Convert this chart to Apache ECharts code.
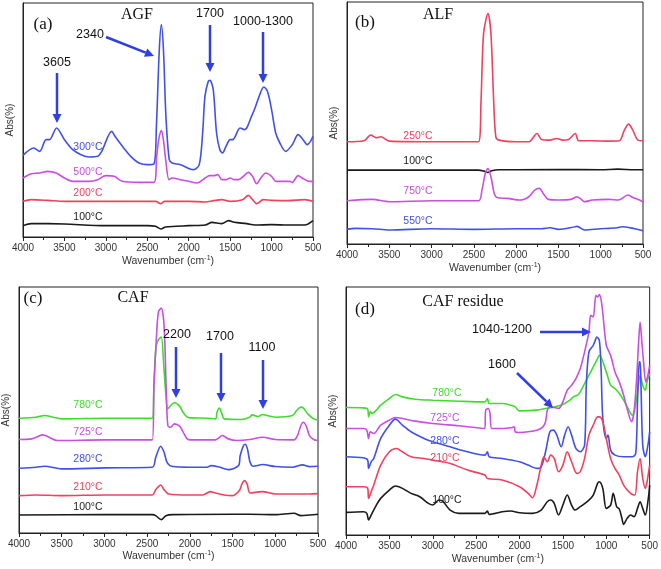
<!DOCTYPE html>
<html><head><meta charset="utf-8">
<script src="https://cdn.jsdelivr.net/npm/echarts@6/dist/echarts.min.js"></script>
<style>html,body{margin:0;padding:0;background:#fff}#c{width:661px;height:569px}</style>
</head><body><div id="c"></div>
<script>
// ---------- DATA (wavenumber cm-1, absorbance arbitrary units) ----------
const xTicks = [4000, 3500, 3000, 2500, 2000, 1500, 1000, 500];

// (a) AGF
const agf300 = [[4000,245],[3870,267],[3800,257],[3720,292],[3680,292],[3595,327],[3500,292],[3400,262],[3300,247],[3200,240],[3100,242],[3050,257],[2930,317],[2890,302],[2800,272],[2700,242],[2600,222],[2500,217],[2420,219],[2390,332],[2355,562],[2330,637],[2305,562],[2275,362],[2235,232],[2200,222],[2100,217],[1985,204],[1940,202],[1873,217],[1832,312],[1804,422],[1764,467],[1744,470],[1704,442],[1664,312],[1624,262],[1592,252],[1550,272],[1500,292],[1470,292],[1400,322],[1380,327],[1330,322],[1300,327],[1250,357],[1200,387],[1150,422],[1094,450],[1050,437],[1000,382],[950,312],[900,282],[830,257],[750,277],[680,307],[620,292],[570,277],[530,287],[500,302]];
const agf500 = [[4000,177],[3900,190],[3800,192],[3700,197],[3600,192],[3500,177],[3400,167],[3200,167],[3100,172],[3000,184],[2900,182],[2800,167],[2600,164],[2420,164],[2386,242],[2362,292],[2330,319],[2306,292],[2278,232],[2238,172],[2200,177],[2100,172],[2000,167],[1900,162],[1800,177],[1750,184],[1700,184],[1650,187],[1600,172],[1550,172],[1500,177],[1450,172],[1400,172],[1350,180],[1280,194],[1230,182],[1180,160],[1130,177],[1070,192],[1000,182],[950,167],[850,167],[780,167],[750,164],[680,184],[630,177],[550,167],[500,167]];
const agf200 = [[4000,107],[3900,112],[3700,110],[3500,107],[3000,107],[2500,107],[2400,107],[2340,100],[2290,107],[2000,107],[1800,105],[1700,109],[1600,112],[1500,107],[1350,112],[1280,125],[1230,112],[1180,100],[1100,112],[1000,110],[800,109],[600,112],[500,107]];
const agf100 = [[4000,34],[3900,40],[3700,40],[3500,39],[3000,34],[2500,34],[2400,32],[2335,24],[2280,30],[2000,34],[1800,36],[1720,44],[1600,40],[1520,49],[1450,44],[1300,40],[1200,36],[1000,37],[800,36],[600,36],[500,49]];

// (b) ALF
const alf250 = [[4000,307],[3800,310],[3720,327],[3650,319],[3600,322],[3500,309],[3000,307],[2445,307],[2415,432],[2385,632],[2333,692],[2298,632],[2266,432],[2240,322],[2200,312],[2000,307],[1850,307],[1754,332],[1700,314],[1600,312],[1520,317],[1450,312],[1380,314],[1301,332],[1260,310],[1100,310],[900,309],[780,310],[720,342],[671,360],[620,342],[560,312],[500,310]];
const alf100 = [[4000,222],[3000,222],[2445,222],[2380,219],[2333,215],[2290,220],[2200,223],[1500,224],[1000,223],[800,225],[600,223],[500,223]];
const alf750 = [[4000,130],[3700,134],[3500,127],[3000,130],[2445,130],[2404,162],[2365,212],[2333,227],[2298,202],[2259,152],[2227,140],[2100,137],[1950,132],[1850,142],[1780,162],[1725,167],[1680,152],[1620,134],[1500,132],[1350,134],[1280,142],[1230,134],[1190,127],[1100,132],[900,134],[790,132],[680,147],[620,140],[540,132],[500,126]];
const alf550 = [[4000,44],[3900,47],[3700,46],[3500,42],[3000,46],[2500,44],[2000,46],[1700,46],[1600,49],[1500,44],[1300,52],[1280,53],[1190,42],[1000,46],[900,47],[800,49],[750,52],[600,46],[500,40]];

// (c) CAF
const caf780 = [[4000,344],[3800,347],[3700,352],[3600,347],[3500,342],[3000,344],[2440,344],[2420,450],[2395,560],[2365,580],[2335,587],[2305,500],[2280,412],[2258,372],[2225,382],[2180,390],[2120,380],[2080,362],[2030,347],[1990,345],[1800,344],[1700,342],[1682,362],[1655,374],[1624,357],[1597,342],[1400,340],[1300,347],[1270,354],[1200,349],[1150,355],[1100,352],[1000,347],[800,352],[750,367],[700,377],[670,374],[620,357],[550,342],[500,339]];
const caf725 = [[4000,280],[3850,282],[3720,294],[3650,287],[3550,277],[3000,279],[2440,279],[2420,442],[2390,592],[2368,662],[2335,674],[2302,622],[2278,442],[2258,322],[2225,317],[2180,327],[2120,320],[2078,302],[2031,282],[1990,279],[1700,279],[1620,292],[1550,282],[1450,277],[1300,280],[1150,287],[1000,280],[780,279],[740,292],[700,322],[674,332],[640,322],[600,292],[550,280],[500,277]];
const caf280 = [[4000,194],[3800,197],[3700,200],[3500,192],[3000,195],[2440,197],[2399,227],[2341,260],[2302,242],[2264,210],[2200,199],[2000,197],[1800,197],[1750,202],[1650,197],[1550,190],[1430,202],[1411,232],[1372,262],[1353,266],[1326,252],[1295,212],[1256,200],[1150,205],[1000,199],[800,197],[680,204],[600,199],[500,200]];
const caf210 = [[4000,112],[3800,114],[3500,112],[3000,114],[2440,114],[2399,130],[2341,144],[2302,130],[2250,117],[2000,114],[1850,114],[1760,124],[1700,120],[1600,114],[1500,112],[1420,127],[1390,147],[1360,157],[1330,147],[1295,120],[1150,124],[1000,117],[800,117],[600,117],[500,118]];
const caf100 = [[4000,54],[3000,55],[2440,55],[2400,52],[2335,40],[2280,52],[2200,55],[1500,56],[1300,56],[1000,55],[780,59],[700,52],[600,54],[500,56]];

// (d) CAF residue
const res780 = [[4000,383],[3800,382],[3750,378],[3740,355],[3720,370],[3700,365],[3650,375],[3600,390],[3500,410],[3430,422],[3350,415],[3200,408],[3000,405],[2700,402],[2400,400],[2370,410],[2350,395],[2200,395],[2100,390],[2050,385],[2000,373],[1800,375],[1700,380],[1600,385],[1500,392],[1420,405],[1380,415],[1330,420],[1300,430],[1200,480],[1150,505],[1100,530],[1080,540],[1000,490],[950,450],[900,440],[850,425],[800,405],[750,380],[700,360],[670,380],[640,430],[610,480],[580,450],[550,435],[530,460],[500,485]];
const res725 = [[4000,320],[3800,320],[3760,315],[3740,290],[3720,310],[3680,305],[3600,330],[3500,345],[3430,353],[3350,350],[3200,342],[3000,335],[2700,328],[2400,320],[2390,375],[2360,380],[2340,365],[2320,320],[2200,320],[2100,322],[2060,325],[2050,310],[2000,308],[1900,310],[1800,315],[1730,325],[1700,340],[1680,375],[1650,383],[1600,383],[1550,380],[1500,400],[1450,435],[1400,450],[1350,470],[1300,500],[1250,550],[1200,610],[1180,660],[1150,655],[1120,720],[1100,715],[1080,722],[1050,690],[1000,570],[950,540],[900,490],[850,460],[800,420],[750,370],[710,340],[680,370],[650,470],[625,590],[610,640],[590,580],[570,520],[545,460],[520,480],[500,510]];
const res280 = [[4000,235],[3800,232],[3750,225],[3740,200],[3710,220],[3680,230],[3600,290],[3500,330],[3430,348],[3350,330],[3250,310],[3100,290],[3000,280],[2800,265],[2600,250],[2400,240],[2370,250],[2350,235],[2200,230],[2000,220],[1900,210],[1800,200],[1750,205],[1700,250],[1650,310],[1610,315],[1570,300],[1520,265],[1480,300],[1440,325],[1400,300],[1350,260],[1300,250],[1250,270],[1230,450],[1200,550],[1150,570],[1120,590],[1110,595],[1080,585],[1060,500],[1040,350],[1000,290],[980,300],[950,255],[900,240],[800,235],[700,235],[660,245],[640,400],[620,520],[610,520],[600,450],[580,270],[550,235],[520,270],[500,310]];
const res210 = [[4000,145],[3800,145],[3750,140],[3740,110],[3710,130],[3680,150],[3600,210],[3500,250],[3420,260],[3350,250],[3250,235],[3100,230],[3000,225],[2800,215],[2600,195],[2400,180],[2370,170],[2200,165],[2000,145],[1900,125],[1850,112],[1800,150],[1750,210],[1720,235],[1680,220],[1640,240],[1600,230],[1550,190],[1500,210],[1450,250],[1400,220],[1340,185],[1300,190],[1250,230],[1200,300],[1150,330],[1100,355],[1080,355],[1040,340],[1000,290],[950,230],[900,200],[850,180],[800,150],[720,125],[670,120],[640,190],[610,230],[580,170],[550,140],[530,160],[500,210]];
const res100 = [[4000,68],[3800,70],[3760,65],[3740,45],[3710,60],[3650,90],[3600,110],[3500,135],[3430,147],[3350,140],[3250,125],[3150,115],[3050,95],[3000,90],[2930,105],[2880,100],[2800,75],[2700,65],[2500,65],[2400,65],[2370,72],[2350,62],[2200,70],[2100,72],[2000,67],[1850,65],[1750,75],[1680,100],[1640,105],[1600,95],[1550,60],[1500,90],[1450,120],[1400,90],[1360,75],[1300,85],[1200,105],[1150,120],[1100,155],[1080,160],[1040,140],[1000,80],[950,90],[920,125],[880,85],[850,78],[820,50],[800,32],[760,50],[720,60],[680,55],[640,80],[610,100],[580,80],[550,60],[520,100],[500,150]];

// ---------- STYLE ----------
const BLUE='#4150e6', MAG='#c94fe0', RED='#f0415e', GRN='#3fdc2c', BLK='#1a1a1a', ARW='#2f3fe0';
const SANS='"Liberation Sans", Arial, sans-serif', SERIF='"Liberation Serif","Times New Roman",serif';

const grids = [
  {left:23, top:3, width:290, height:234},
  {left:347, top:2, width:296, height:242},
  {left:17, top:287, width:301, height:246},
  {left:346, top:287, width:306, height:248}
];
const yMax = [702, 727, 737, 745];
const nameGaps = [18, 18, 17, 18];

const xAxes = grids.map((g,i)=>({
  type:'value', gridIndex:i, min:500, max:4000, interval:500, inverse:true,
  axisLine:{show:true, lineStyle:{color:'#222', width:1}},
  axisTick:{show:true, inside:false, length:4, lineStyle:{color:'#222'}},
  minorTick:{show:true, splitNumber:2, length:3, lineStyle:{color:'#222'}},
  splitLine:{show:false},
  axisLabel:{fontSize:10, color:'#333', fontFamily:SANS, margin:6, showMinLabel:true, showMaxLabel:true,
    formatter:(v)=>String(v)},
  name:'Wavenumber (cm{sup|-1})', nameLocation:'middle', nameGap:nameGaps[i],
  nameTextStyle:{fontSize:10.5, color:'#333', fontFamily:SANS,
    rich:{sup:{fontSize:7, color:'#333', fontFamily:SANS, verticalAlign:'top', padding:[0,0,6,0]}}}
}));
const yAxes = grids.map((g,i)=>({
  type:'value', gridIndex:i, min:0, max:yMax[i],
  axisLine:{show:true, lineStyle:{color:'#222'}}, axisTick:{show:false}, axisLabel:{show:false}, splitLine:{show:false},
  name:'Abs(%)', nameLocation:'middle', nameGap:8, nameRotate:90,
  nameTextStyle:{fontSize:10, color:'#333', fontFamily:SANS}
}));

function line(data, color, idx){
  return {type:'line', data, xAxisIndex:idx, yAxisIndex:idx, showSymbol:false, smooth:0.3,
    lineStyle:{color, width:1.6}, itemStyle:{color}, silent:true, animation:false};
}
const series = [
  line(agf300,BLUE,0), line(agf500,MAG,0), line(agf200,RED,0), line(agf100,BLK,0),
  line(alf250,RED,1), line(alf100,BLK,1), line(alf750,MAG,1), line(alf550,BLUE,1),
  line(caf780,GRN,2), line(caf725,MAG,2), line(caf280,BLUE,2), line(caf210,RED,2), line(caf100,BLK,2),
  line(res780,GRN,3), line(res725,MAG,3), line(res280,BLUE,3), line(res210,RED,3), line(res100,BLK,3)
];

// ---------- annotations ----------
function txt(x,y,text,opt){
  opt=opt||{};
  return {type:'text', x, y, z:10, style:{text, fill:opt.fill||'#111',
    font:(opt.size||10.5)+'px '+(opt.fam||SANS), align:'center', verticalAlign:'middle',
    textAlign:'center', textVerticalAlign:'middle'}};
}
function arrow(x1,y1,x2,y2){
  const a=Math.atan2(y2-y1,x2-x1), L=9, W=4.5;
  const bx=x2-L*Math.cos(a), by=y2-L*Math.sin(a), px=-Math.sin(a), py=Math.cos(a);
  return [
    {type:'line', z:10, shape:{x1,y1,x2:bx,y2:by}, style:{stroke:ARW, lineWidth:2.5}},
    {type:'polygon', z:10, shape:{points:[[x2,y2],[bx+px*W,by+py*W],[bx-px*W,by-py*W]]}, style:{fill:ARW}}
  ];
}
const graphic = [
  // (a)
  txt(43,25,'(a)',{size:17,fam:SERIF}), txt(137,15,'AGF',{size:16,fam:SERIF}),
  txt(57,63,'3605',{size:12.5}), ...arrow(57,73,57,123),
  txt(90,35,'2340',{size:12.5}), ...arrow(106,37,154,56),
  txt(210,14,'1700',{size:12.5}), ...arrow(210,25,210,72),
  txt(263,22,'1000-1300',{size:12.5}), ...arrow(263,32,263,83),
  txt(88,147,'300°C',{fill:BLUE}), txt(88,172,'500°C',{fill:MAG}), txt(88,193,'200°C',{fill:RED}), txt(88,217,'100°C',{fill:BLK}),
  // (b)
  txt(365,23,'(b)',{size:17,fam:SERIF}), txt(438,15,'ALF',{size:16,fam:SERIF}),
  txt(418,136,'250°C',{fill:RED}), txt(418,161,'100°C',{fill:BLK}), txt(418,191,'750°C',{fill:MAG}), txt(418,221,'550°C',{fill:BLUE}),
  // (c)
  txt(33,299,'(c)',{size:17,fam:SERIF}), txt(133,298,'CAF',{size:16,fam:SERIF}),
  txt(177,335,'2200',{size:12.5}), ...arrow(176,347,176,398),
  txt(220,337,'1700',{size:12.5}), ...arrow(221,353,221,402),
  txt(262,348,'1100',{size:12.5}), ...arrow(263,360,263,409),
  txt(88,405,'780°C',{fill:GRN}), txt(88,432,'725°C',{fill:MAG}), txt(88,459,'280°C',{fill:BLUE}), txt(88,487,'210°C',{fill:RED}), txt(88,507,'100°C',{fill:BLK}),
  // (d)
  txt(365,310,'(d)',{size:17,fam:SERIF}), txt(463,302,'CAF residue',{size:16,fam:SERIF}),
  txt(502,330,'1040-1200',{size:12.5}), ...arrow(540,332,591,332),
  txt(502,365,'1600',{size:12.5}), ...arrow(517,373,553,408),
  txt(447,393,'780°C',{fill:GRN}), txt(445,418,'725°C',{fill:MAG}), txt(445,441,'280°C',{fill:BLUE}), txt(445,458,'210°C',{fill:RED}), txt(447,500,'100°C',{fill:BLK})
];

const chart = echarts.init(document.getElementById('c'), null, {renderer:'canvas'});
chart.setOption({
  animation:false, backgroundColor:'#fff',
  grid: grids.map(g=>Object.assign({show:true, borderColor:'#222', borderWidth:1, backgroundColor:'transparent', containLabel:false}, g)),
  xAxis: xAxes, yAxis: yAxes, series, graphic
});
</script>
</body></html>
